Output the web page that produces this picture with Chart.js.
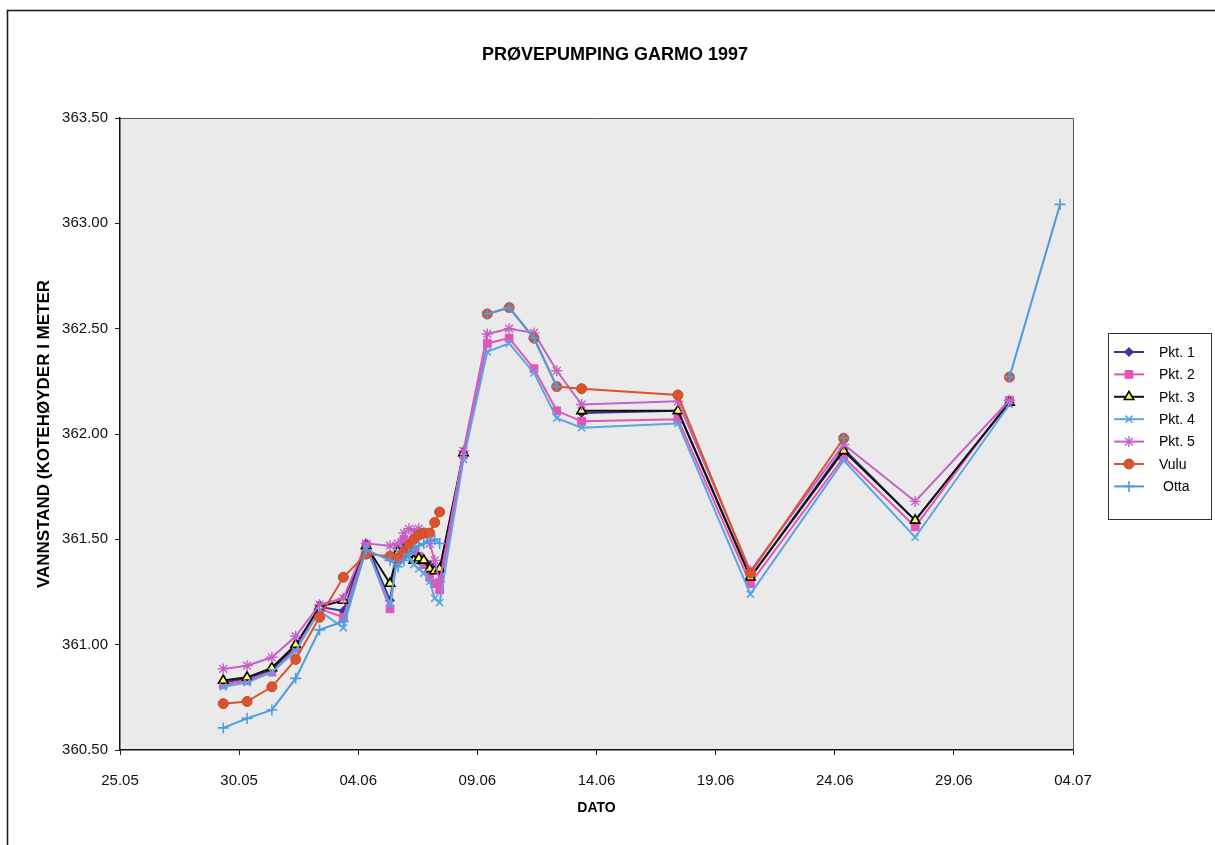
<!DOCTYPE html>
<html>
<head>
<meta charset="utf-8">
<title>Prøvepumping Garmo 1997</title>
<script src="https://cdn.jsdelivr.net/npm/chart.js@4/dist/chart.umd.min.js"></script>
<style>
  html, body { margin: 0; padding: 0; background: #ffffff; }
  #wrap { width: 1215px; height: 845px; position: relative; }
</style>
</head>
<body>
<div id="wrap"><canvas id="chart" width="1215" height="845"></canvas></div>
<script>
// Measurement times (dd.mm hh:mm, 1997)
const times = [
  "29.05 08:00", "30.05 08:00", "31.05 09:00", "01.06 09:00", "02.06 09:00",
  "03.06 09:00", "04.06 08:00", "05.06 08:00", "05.06 16:00", "05.06 22:00",
  "06.06 03:00", "06.06 08:00", "06.06 13:00", "06.06 18:00", "07.06 00:00",
  "07.06 05:00", "07.06 10:00", "08.06 10:00", "09.06 10:00", "10.06 08:00",
  "11.06 09:00", "12.06 08:00", "13.06 09:00", "17.06 10:00", "20.06 11:00",
  "24.06 09:00", "27.06 09:00", "01.07 08:00", "03.07 11:00"
];

// Water levels (m a.s.l.) per observation point; null = no reading
const pkt1 = [360.82, 360.84, 360.88, 360.99, 361.18, 361.16, 361.48, 361.21, 361.46, 361.48,
  361.46, 361.42, 361.40, 361.40, 361.38, 361.36, 361.35, 361.90, null, null,
  null, null, 362.10, 362.11, 361.32, 361.93, 361.59, 362.15, null];
const pkt2 = [360.81, 360.83, 360.87, 360.98, 361.17, 361.13, 361.47, 361.17, 361.45, 361.50,
  361.48, 361.45, 361.42, 361.38, 361.32, 361.29, 361.26, 361.90, 362.43, 362.455,
  362.31, 362.11, 362.06, 362.07, 361.29, 361.89, 361.56, 362.16, null];
const pkt3 = [360.83, 360.845, 360.89, 361.00, 361.18, 361.21, 361.47, 361.29, 361.44, 361.45,
  361.43, 361.40, 361.41, 361.40, 361.36, 361.35, 361.36, 361.91, null, null,
  null, null, 362.11, 362.11, 361.32, 361.92, 361.59, 362.15, null];
const pkt4 = [360.80, 360.82, 360.87, 360.97, 361.16, 361.08, 361.46, 361.19, 361.44, 361.46,
  361.42, 361.38, 361.36, 361.34, 361.30, 361.22, 361.20, 361.88, 362.39, 362.43,
  362.29, 362.075, 362.03, 362.05, 361.24, 361.875, 361.51, 362.14, null];
const pkt5 = [360.885, 360.90, 360.94, 361.04, 361.19, 361.22, 361.48, 361.47, 361.48, 361.53,
  361.55, 361.54, 361.55, 361.53, 361.48, 361.40, 361.30, 361.92, 362.475, 362.50,
  362.48, 362.30, 362.14, 362.155, 361.35, 361.95, 361.68, 362.16, null];
const vulu = [360.72, 360.73, 360.80, 360.93, 361.13, 361.32, 361.43, 361.42, 361.41, 361.44,
  361.47, 361.50, 361.52, 361.53, 361.53, 361.58, 361.63, null, 362.57, 362.60,
  362.455, 362.225, 362.215, 362.185, 361.34, 361.98, null, 362.27, null];
const otta = [360.605, 360.65, 360.69, 360.84, 361.07, 361.11, 361.45, 361.40, 361.37, 361.40,
  361.43, 361.45, 361.47, 361.48, 361.49, 361.50, 361.48, null, 362.57, 362.60,
  362.455, 362.225, null, null, null, 361.98, null, 362.27, 363.09];

// Axis ranges and tick labels
const yTicks = [360.5, 361.0, 361.5, 362.0, 362.5, 363.0, 363.5];
const xTickLabels = ["25.05", "30.05", "04.06", "09.06", "14.06", "19.06", "24.06", "29.06", "04.07"];
const seriesNames = ["Pkt. 1", "Pkt. 2", "Pkt. 3", "Pkt. 4", "Pkt. 5", "Vulu", "Otta"];

const BASE = Date.UTC(1997, 4, 25);
function dayOffset(s) {
  const [d, t] = s.split(" ");
  const [dd, mm] = d.split(".").map(Number);
  const [hh, mi] = t.split(":").map(Number);
  return (Date.UTC(1997, mm - 1, dd, hh, mi) - BASE) / 86400000;
}
const xs = times.map(dayOffset);
const pts = arr => arr.map((v, i) => ({ x: xs[i], y: v }));

const styles = [
  { color: "#3b3291", point: "rectRot", r: 4.5, fill: "#3b3291", stroke: "#3b3291", pw: 1 },
  { color: "#e653b6", point: "rect", r: 5.5, fill: "#e653b6", stroke: "#e653b6", pw: 1 },
  { color: "#111111", point: "triangle", r: 5.5, fill: "#ffff55", stroke: "#000000", pw: 1.6 },
  { color: "#5aa5e4", point: "crossRot", r: 5, fill: "#5aa5e4", stroke: "#5aa5e4", pw: 1.6 },
  { color: "#c661c8", point: "star", r: 5.5, fill: "#c661c8", stroke: "#c661c8", pw: 1.4 },
  { color: "#d9532f", point: "circle", r: 5, fill: "#d9532f", stroke: "#c94a2c", pw: 1 },
  { color: "#4e9be0", point: "cross", r: 5.5, fill: "#4e9be0", stroke: "#4e9be0", pw: 1.6 }
];
const values = [pkt1, pkt2, pkt3, pkt4, pkt5, vulu, otta];

const datasets = values.map((vals, i) => ({
  label: seriesNames[i],
  data: pts(vals),
  borderColor: styles[i].color,
  backgroundColor: styles[i].fill,
  borderWidth: 2,
  pointStyle: styles[i].point,
  pointRadius: styles[i].r,
  pointBackgroundColor: styles[i].fill,
  pointBorderColor: styles[i].stroke,
  pointBorderWidth: styles[i].pw,
  tension: 0,
  spanGaps: false,
  order: values.length - 1 - i   // last series drawn on top
}));

const FONT = "'Liberation Sans', Arial, 'DejaVu Sans', sans-serif";

// Page frame, plot fill, plot border, title and legend box
const decor = {
  id: "decor",
  beforeDraw(chart) {
    const { ctx, chartArea: a } = chart;
    ctx.save();
    ctx.fillStyle = "#ffffff";
    ctx.fillRect(0, 0, chart.width, chart.height);
    ctx.strokeStyle = "#1e1e1e";
    ctx.lineWidth = 1.6;
    ctx.strokeRect(7.5, 10.5, chart.width + 10, chart.height + 10);
    ctx.fillStyle = "#eaeaea";
    ctx.fillRect(a.left, a.top, a.right - a.left, a.bottom - a.top);
    ctx.restore();
  },
  afterDraw(chart) {
    const { ctx, chartArea: a } = chart;
    ctx.save();
    ctx.strokeStyle = "#555555";
    ctx.lineWidth = 1;
    ctx.beginPath();
    ctx.moveTo(a.left, a.top + 0.5);
    ctx.lineTo(a.right + 0.5, a.top + 0.5);
    ctx.lineTo(a.right + 0.5, a.bottom);
    ctx.stroke();

    // title
    ctx.fillStyle = "#000000";
    ctx.font = "bold 18px " + FONT;
    ctx.textAlign = "center";
    ctx.textBaseline = "middle";
    ctx.fillText("PRØVEPUMPING GARMO 1997", 615, 55);

    // legend
    const bx = 1108.5, by = 333.5, bw = 103, bh = 186;
    ctx.fillStyle = "#ffffff";
    ctx.fillRect(bx, by, bw, bh);
    ctx.strokeStyle = "#333333";
    ctx.lineWidth = 1;
    ctx.strokeRect(bx, by, bw, bh);
    ctx.font = "14px " + FONT;
    ctx.textAlign = "left";
    chart.data.datasets.forEach((ds, i) => {
      const y = 352 + i * 22.4;
      const s = styles[i];
      ctx.strokeStyle = s.color;
      ctx.lineWidth = 2;
      ctx.beginPath();
      ctx.moveTo(1114, y);
      ctx.lineTo(1144, y);
      ctx.stroke();
      ctx.fillStyle = s.fill;
      ctx.strokeStyle = s.stroke;
      ctx.lineWidth = s.pw;
      Chart.helpers.drawPoint(ctx, { pointStyle: s.point, radius: s.r, rotation: 0, borderWidth: s.pw }, 1129, y);
      ctx.fillStyle = "#000000";
      ctx.fillText(ds.label, i === 6 ? 1163 : 1159, y + 1);
    });
    ctx.restore();
  }
};

new Chart(document.getElementById("chart"), {
  type: "line",
  data: { datasets },
  plugins: [decor],
  options: {
    responsive: false,
    animation: false,
    devicePixelRatio: 1,
    layout: { padding: { left: 0, right: 142, top: 118, bottom: 0 } },
    plugins: { legend: { display: false }, tooltip: { enabled: false }, title: { display: false } },
    scales: {
      x: {
        type: "linear",
        min: 0,
        max: 40,
        afterFit(s) { s.height = 95; },
        afterBuildTicks(s) { s.ticks = xTickLabels.map((_, i) => ({ value: i * 5 })); },
        ticks: {
          autoSkip: false,
          maxRotation: 0,
          padding: 17,
          color: "#111111",
          font: { family: FONT, size: 15 },
          callback: (v) => xTickLabels[Math.round(v / 5)]
        },
        grid: { drawOnChartArea: false, drawTicks: true, tickLength: 5, color: "#222222" },
        border: { display: true, color: "#111111", width: 1.5 },
        title: {
          display: true,
          text: "DATO",
          color: "#000000",
          font: { family: FONT, size: 14, weight: "bold" },
          padding: { top: 0, bottom: 28 }
        }
      },
      y: {
        min: 360.5,
        max: 363.5,
        afterFit(s) { s.width = 120; },
        afterBuildTicks(s) { s.ticks = yTicks.map(v => ({ value: v })); },
        ticks: {
          padding: 7,
          color: "#111111",
          font: { family: FONT, size: 15 },
          callback: (v) => Number(v).toFixed(2)
        },
        grid: { drawOnChartArea: false, drawTicks: true, tickLength: 5, color: "#222222" },
        border: { display: true, color: "#111111", width: 1.5 },
        title: {
          display: true,
          text: "VANNSTAND (KOTEHØYDER I METER",
          color: "#000000",
          font: { family: FONT, size: 17, weight: "bold" },
          padding: { top: 34, bottom: 0 }
        }
      }
    }
  }
});
</script>
</body>
</html>
